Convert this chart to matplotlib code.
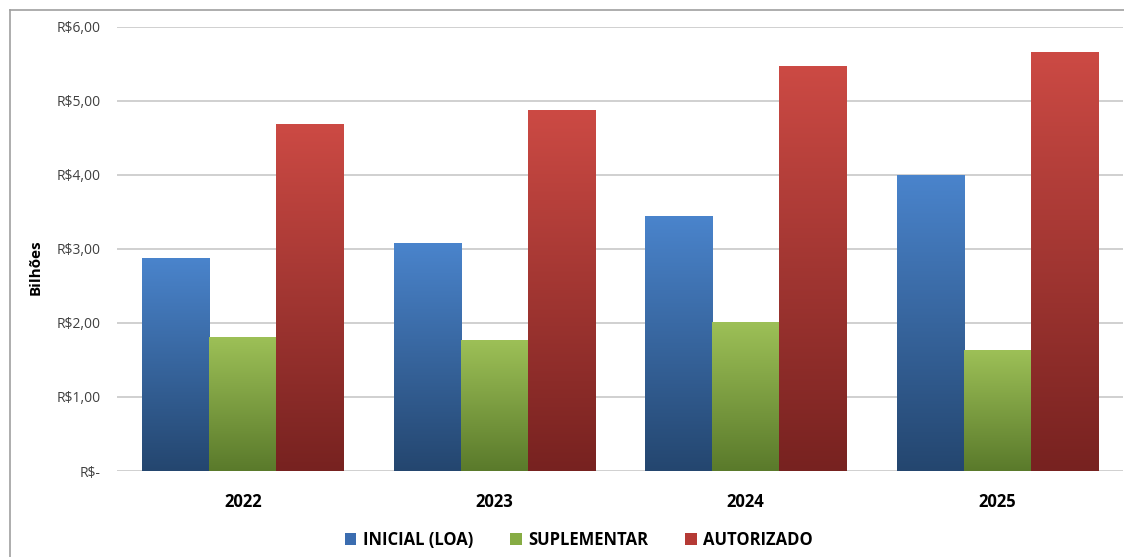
import matplotlib
matplotlib.use("Agg")
import matplotlib.pyplot as plt
import numpy as np
from matplotlib.colors import LinearSegmentedColormap
from matplotlib.patches import Patch
from matplotlib.lines import Line2D

plt.rcParams['font.family'] = ['Open Sans', 'DejaVu Sans']

anos = ['2022', '2023', '2024', '2025']
inicial = [2.87, 3.08, 3.44, 4.00]
suplementar = [1.80, 1.77, 2.01, 1.63]
autorizado = [4.68, 4.87, 5.46, 5.65]
series = ['INICIAL (LOA)', 'SUPLEMENTAR', 'AUTORIZADO']
y_ticks = [0, 1, 2, 3, 4, 5, 6]
y_labels = ['R$-', 'R$1,00', 'R$2,00', 'R$3,00', 'R$4,00', 'R$5,00', 'R$6,00']

# cor do topo, cor da base
cores = [('#4a84cc', '#24466f'), ('#9dc057', '#5a7a2b'), ('#cc4a44', '#772220')]
cor_legenda = ['#3b6db0', '#86ac44', '#b53a35']

fig = plt.figure(figsize=(11.24, 5.57), dpi=100)
ax = fig.add_axes([117/1124, 86/557, 1006/1124, 444/557])

x = np.arange(len(anos))
w = 0.267
grad = np.linspace(1, 0, 256).reshape(-1, 1)
for i, vals in enumerate([inicial, suplementar, autorizado]):
    cmap = LinearSegmentedColormap.from_list('g%d' % i, [cores[i][1], cores[i][0]])
    bars = ax.bar(x + (i - 1) * w, vals, w, color='none', edgecolor='none', zorder=2)
    for b in bars:
        x0, y0 = b.get_x(), b.get_y()
        ax.imshow(grad, cmap=cmap, aspect='auto', zorder=2,
                  extent=[x0, x0 + b.get_width(), y0, y0 + b.get_height()])

ax.set_xlim(-0.5, 3.5)
ax.set_ylim(0, 6)
ax.set_yticks(y_ticks)
ax.set_yticklabels(y_labels, fontsize=10, color='#404040')
ax.set_xticks(x)
ax.set_xticklabels(anos, fontsize=12, fontweight='bold')
ax.tick_params(axis='y', length=0, pad=12)
ax.tick_params(axis='x', length=0, pad=16)
ax.grid(axis='y', color='#c8c8c8', linewidth=1.2, zorder=0)
ax.set_axisbelow(True)
for s in ax.spines.values():
    s.set_visible(False)
ax.set_ylabel('Bilhões', fontsize=11, fontweight='bold')
ax.yaxis.set_label_coords(-0.074, 0.46)

handles = [Patch(facecolor=c, edgecolor='none') for c in cor_legenda]
fig.legend(handles, series, loc='lower center', bbox_to_anchor=(0.515, -0.012), ncol=3,
           frameon=False, prop={'size': 12, 'weight': 'bold'},
           handlelength=0.7, handleheight=0.7, columnspacing=2.2, handletextpad=0.4)

# moldura
fig.add_artist(Line2D([10/1124, 10/1124], [0, 1 - 10/557], color='#a0a0a0', lw=1.2))
fig.add_artist(Line2D([10/1124, 1], [1 - 10/557, 1 - 10/557], color='#a0a0a0', lw=1.2))

fig.savefig('out.png', dpi=100)
